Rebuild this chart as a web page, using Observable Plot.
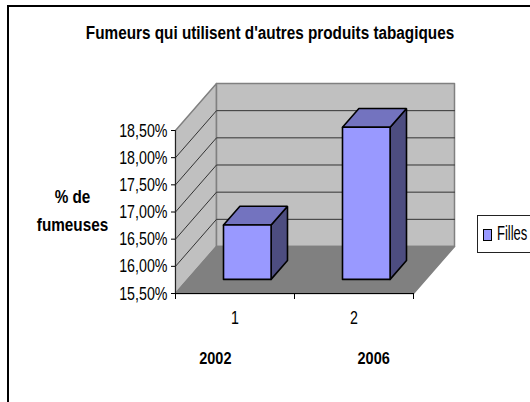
<!DOCTYPE html>
<html><head><meta charset="utf-8">
<style>
html,body{margin:0;padding:0;background:#fff;overflow:hidden}
#page{position:relative;width:530px;height:402px;overflow:hidden;font-family:"Liberation Sans",Arial,sans-serif}
#frame{position:absolute;left:7px;top:5px;width:530px;height:400px;border-left:2px solid #000;border-top:2px solid #000}
#legend{position:absolute;left:477px;top:215px;width:60px;height:36px;border:1px solid #222;background:#fff}
#legend i{position:absolute;left:5px;top:13px;width:7px;height:10px;background:#9999FF;border:1.5px solid #000}
#legend span{position:absolute;left:19px;top:7px;font-size:20px;line-height:20px;color:#000;transform:scaleX(.65);transform-origin:left center}
svg{position:absolute;left:0;top:0}
</style>
<script src="https://cdn.jsdelivr.net/npm/d3@7"></script>
<script src="https://cdn.jsdelivr.net/npm/@observablehq/plot@0.6"></script>
</head><body><div id="page"><div id="frame"></div></div>
<script>
const title = "Fumeurs qui utilisent d'autres produits tabagiques";
const yTitle = ["% de", "fumeuses"];
const categories = ["1", "2"];
const years = ["2002", "2006"];
const values = [16.5, 18.3];
const yTicks = [15.5, 16, 16.5, 17, 17.5, 18, 18.5];
const seriesName = "Filles";

const depthX = 41 / 119, depthY = 47 / 54.33;
const P = (x, v, z) => ({x: x + z * depthX, y: v + z * depthY});
const vMin = yTicks[0], vMax = yTicks[yTicks.length - 1], n = categories.length;
const face = (id, color, pts) => [...pts, pts[0]].map(p => ({...P(...p), id, color}));

const shell = [
  ...face("left", "#C0C0C0", [[0,vMin,0],[0,vMax,0],[0,vMax,1],[0,vMin,1]]),
  ...face("back", "#C0C0C0", [[0,vMin,1],[0,vMax,1],[n,vMax,1],[n,vMin,1]]),
  ...face("floor", "#808080", [[0,vMin,0],[0,vMin,1],[n,vMin,1],[n,vMin,0]])
];
const grid = yTicks.slice(1, -1).flatMap(v => [
  {...P(0,v,0), id:v}, {...P(0,v,1), id:v}, {...P(n,v,1), id:v}
]);
const bars = values.flatMap((v, i) => {
  const a = i + .3, b = i + .7, f = .3, k = .7;
  return [
    ...face("side"+i, "#4D4D80", [[b,vMin,f],[b,v,f],[b,v,k],[b,vMin,k]]),
    ...face("top"+i, "#7373BF", [[a,v,f],[a,v,k],[b,v,k],[b,v,f]]),
    ...face("front"+i, "#9999FF", [[a,vMin,f],[a,v,f],[b,v,f],[b,vMin,f]])
  ];
});
const comma = d => d.toFixed(2).replace(".", ",") + "%";

const chart = Plot.plot({
  width: 530, height: 402,
  marginLeft: 175, marginRight: 117, marginTop: 130, marginBottom: 109,
  x: {domain: [0, n]},
  y: {domain: [vMin, vMax]},
  style: {fontFamily: '"Liberation Sans",Arial,sans-serif', color: "#000", background: "transparent", overflow: "visible"},
  marks: [
    Plot.line(shell, {x:"x", y:"y", z:"id", fill:"color", stroke:"#808080", strokeWidth:1.5}),
    Plot.line(grid, {x:"x", y:"y", z:"id", stroke:"#333", strokeWidth:1}),
    Plot.line(bars, {x:"x", y:"y", z:"id", fill:"color", stroke:"#000", strokeWidth:1.6, strokeLinejoin:"miter"}),
    Plot.ruleY([vMin], {stroke:"#000", strokeWidth:1}),
    Plot.ruleX([0], {y1:vMin, y2:vMax, stroke:"#222", strokeWidth:1}),
    Plot.axisY({ticks: yTicks, tickFormat: comma, tickSize: 4, tickPadding: 4, fontSize: 19, label: null, anchor:"left"}),
    Plot.axisX({ticks: d3.range(n + 1), tickFormat: () => "", tickSize: 6, label: null}),
    Plot.axisX({ticks: categories.map((c, i) => i + .5), tickFormat: d => categories[Math.floor(d)], tickSize: 0, tickPadding: 17, fontSize: 19, label: null}),
    Plot.text(years, {x: (d, i) => i + .5 + (i - .5) * .33, y: vMin, dy: 65, text: d => d, fontWeight: "bold", fontSize: 17, className:"bold"}),
    Plot.text([title], {frameAnchor:"top-left", dx: 269.5 - 175, dy: 33 - 130, text: d => d, fontWeight:"bold", fontSize: 18, textAnchor:"middle", lineAnchor:"middle", className:"bold"}),
    Plot.text([yTitle[0]], {frameAnchor:"top-left", dx: 72 - 175, dy: 197 - 130, text: d => d, fontWeight:"bold", fontSize: 18, textAnchor:"middle", lineAnchor:"middle", className:"bold"}),
    Plot.text([yTitle[1]], {frameAnchor:"top-left", dx: 72 - 175, dy: 225 - 130, text: d => d, fontWeight:"bold", fontSize: 18, textAnchor:"middle", lineAnchor:"middle", className:"bold"})
  ]
});
document.getElementById("page").appendChild(chart);
const lg = document.createElement("div");
lg.id = "legend";
lg.innerHTML = "<i></i><span></span>";
lg.querySelector("span").textContent = seriesName;
document.getElementById("page").appendChild(lg);
// the reference's type is horizontally condensed
chart.querySelectorAll("text").forEach(t => {
  const bold = t.closest(".bold") || getComputedStyle(t).fontWeight >= 600;
  const w = t.getComputedTextLength();
  if (w > 0) { t.setAttribute("textLength", (w * (bold ? .85 : .75)).toFixed(1)); t.setAttribute("lengthAdjust", "spacingAndGlyphs"); }
});
</script></body></html>
